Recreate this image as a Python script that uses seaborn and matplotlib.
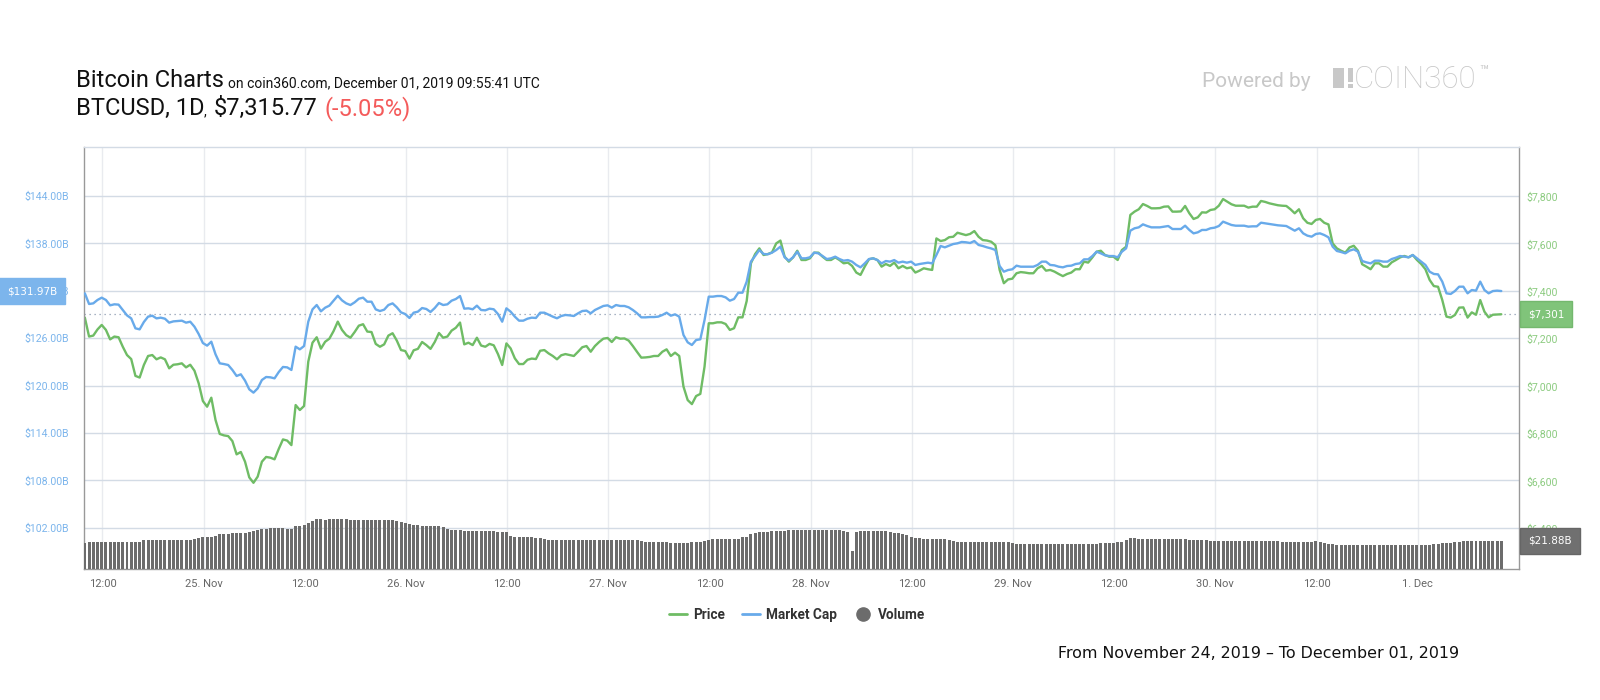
import pandas as pd
import matplotlib
matplotlib.use("Agg")
import matplotlib.pyplot as plt
import matplotlib.transforms as mtransforms
from matplotlib.patches import Rectangle
from matplotlib.lines import Line2D
import seaborn as sns

# ---------------- data (30-minute samples) ----------------
start_time = "2019-11-24 09:55"

price = [
    7287, 7207, 7211, 7237, 7256, 7235, 7195, 7207, 7204, 7164,
    7129, 7112, 7041, 7034, 7087, 7125, 7129, 7111, 7119, 7111,
    7073, 7088, 7090, 7094, 7077, 7088, 7063, 7010, 6935, 6911,
    6949, 6855, 6796, 6790, 6787, 6766, 6710, 6720, 6679, 6613,
    6590, 6616, 6679, 6699, 6696, 6689, 6733, 6773, 6768, 6749,
    6918, 6897, 6914, 7101, 7181, 7204, 7156, 7185, 7198, 7230,
    7270, 7235, 7213, 7202, 7226, 7253, 7259, 7228, 7226, 7176,
    7164, 7174, 7211, 7221, 7190, 7150, 7146, 7114, 7149, 7155,
    7184, 7171, 7155, 7184, 7222, 7202, 7207, 7232, 7244, 7266,
    7174, 7181, 7171, 7202, 7169, 7164, 7176, 7170, 7133, 7087,
    7178, 7157, 7115, 7091, 7091, 7109, 7114, 7112, 7147, 7150,
    7136, 7125, 7111, 7128, 7133, 7129, 7125, 7143, 7162, 7167,
    7143, 7167, 7184, 7198, 7201, 7184, 7204, 7198, 7199, 7190,
    7167, 7142, 7118, 7119, 7121, 7125, 7125, 7143, 7153, 7125,
    7139, 7125, 6996, 6939, 6922, 6956, 6965, 7080, 7263, 7263,
    7267, 7267, 7260, 7235, 7242, 7288, 7288, 7357, 7516, 7555,
    7579, 7551, 7555, 7562, 7600, 7612, 7544, 7523, 7541, 7569,
    7530, 7530, 7537, 7561, 7561, 7544, 7530, 7530, 7541, 7530,
    7516, 7519, 7505, 7477, 7467, 7502, 7533, 7537, 7530, 7502,
    7513, 7505, 7519, 7495, 7505, 7495, 7499, 7477, 7485, 7495,
    7491, 7488, 7621, 7610, 7614, 7626, 7628, 7645, 7640, 7635,
    7640, 7652, 7628, 7614, 7612, 7607, 7592, 7488, 7432, 7448,
    7451, 7474, 7479, 7477, 7474, 7474, 7495, 7505, 7485, 7488,
    7481, 7471, 7462, 7471, 7477, 7491, 7491, 7523, 7519, 7541,
    7565, 7569, 7551, 7544, 7544, 7530, 7572, 7586, 7720, 7734,
    7744, 7766, 7758, 7748, 7748, 7749, 7755, 7756, 7734, 7734,
    7735, 7758, 7727, 7703, 7710, 7731, 7730, 7741, 7744, 7759,
    7787, 7776, 7765, 7759, 7759, 7759, 7751, 7755, 7755, 7779,
    7775, 7769, 7765, 7761, 7759, 7758, 7744, 7727, 7744, 7706,
    7687, 7682, 7699, 7703, 7687, 7680, 7600, 7579, 7569, 7561,
    7583, 7590, 7569, 7512, 7502, 7491, 7516, 7516, 7502, 7502,
    7520, 7530, 7541, 7547, 7541, 7551, 7530, 7513, 7491, 7446,
    7420, 7417, 7361, 7291, 7287, 7298, 7329, 7330, 7287, 7309,
    7299, 7361, 7312, 7288, 7299, 7300, 7301,
]

market_cap = [
    131.68, 130.33, 130.41, 130.84, 131.13, 130.84, 130.16, 130.29, 130.25, 129.57,
    128.89, 128.51, 127.25, 127.12, 128.05, 128.73, 128.85, 128.51, 128.60, 128.47,
    127.97, 128.13, 128.18, 128.22, 127.97, 128.09, 127.46, 126.53, 125.39, 125.06,
    125.56, 123.96, 122.82, 122.73, 122.61, 121.98, 121.22, 121.43, 120.63, 119.53,
    119.11, 119.65, 120.71, 121.09, 121.05, 120.92, 121.72, 122.36, 122.31, 121.98,
    124.93, 124.59, 125.01, 128.09, 129.65, 130.20, 129.40, 129.86, 130.12, 130.75,
    131.38, 130.79, 130.41, 130.20, 130.54, 131.00, 131.13, 130.62, 130.62, 129.65,
    129.44, 129.61, 130.20, 130.41, 129.91, 129.27, 129.06, 128.56, 129.23, 129.36,
    129.82, 129.70, 129.32, 129.82, 130.46, 130.20, 130.29, 130.75, 130.96, 131.34,
    129.74, 129.78, 129.66, 130.12, 129.57, 129.53, 129.74, 129.66, 129.06, 128.09,
    129.78, 129.36, 128.73, 128.22, 128.22, 128.47, 128.60, 128.56, 129.23, 129.23,
    128.98, 128.73, 128.52, 128.81, 128.94, 128.89, 128.81, 129.15, 129.44, 129.49,
    129.15, 129.57, 129.82, 130.08, 130.16, 129.87, 130.20, 130.08, 130.08, 129.91,
    129.57, 129.15, 128.64, 128.64, 128.68, 128.68, 128.73, 128.94, 129.23, 128.85,
    129.02, 128.73, 126.41, 125.48, 125.14, 125.77, 125.86, 128.30, 131.26, 131.26,
    131.34, 131.34, 131.17, 130.75, 130.96, 131.76, 131.76, 133.16, 135.69, 136.41,
    137.16, 136.66, 136.62, 136.83, 137.16, 137.59, 136.24, 135.82, 136.24, 136.95,
    136.11, 136.11, 136.24, 136.83, 136.74, 136.40, 136.02, 136.11, 136.32, 136.02,
    135.81, 135.89, 135.69, 135.27, 134.97, 135.47, 136.02, 136.11, 135.89, 135.47,
    135.77, 135.69, 135.89, 135.56, 135.69, 135.56, 135.69, 135.27, 135.39, 135.47,
    135.56, 135.47, 136.53, 137.67, 137.50, 137.71, 137.92, 138.01, 138.18, 138.14,
    138.05, 138.30, 137.80, 137.67, 137.50, 137.36, 137.16, 135.14, 134.42, 134.63,
    134.72, 135.18, 135.05, 135.05, 135.05, 135.05, 135.27, 135.69, 135.69, 135.27,
    135.22, 135.05, 134.97, 135.14, 135.18, 135.39, 135.47, 135.98, 135.98, 136.40,
    136.95, 136.74, 136.49, 136.40, 136.40, 136.24, 136.95, 137.37, 139.61, 139.91,
    140.03, 140.41, 140.20, 140.03, 140.03, 140.03, 140.12, 140.20, 139.82, 139.82,
    139.82, 140.24, 139.70, 139.27, 139.40, 139.70, 139.70, 139.91, 139.99, 140.20,
    140.75, 140.54, 140.33, 140.24, 140.24, 140.24, 140.12, 140.16, 140.16, 140.62,
    140.54, 140.46, 140.37, 140.29, 140.24, 140.20, 139.91, 139.61, 139.91, 139.27,
    138.98, 138.85, 139.19, 139.27, 139.06, 138.77, 137.59, 137.04, 136.91, 136.74,
    137.08, 137.25, 136.95, 135.77, 135.60, 135.47, 135.81, 135.81, 135.69, 135.69,
    136.02, 136.19, 136.40, 136.32, 136.24, 136.53, 136.11, 135.69, 135.27, 134.42,
    134.13, 134.08, 133.16, 131.68, 131.60, 131.97, 132.52, 132.52, 131.68, 132.10,
    132.02, 133.16, 132.10, 131.68, 131.97, 132.02, 131.97,
]

volume = [
    20.1, 20.5, 21.1, 21.1, 21.1, 21.1, 21.1, 21.1, 21.1, 21.1,
    21.1, 21.1, 21.1, 21.1, 22.7, 22.7, 22.7, 22.7, 22.7, 22.7,
    22.7, 22.7, 22.7, 22.7, 22.7, 22.7, 23.4, 24.0, 24.4, 24.4,
    25.1, 25.7, 26.7, 27.3, 27.4, 27.6, 27.8, 27.8, 28.2, 28.8,
    29.2, 30.2, 30.9, 31.3, 31.7, 31.9, 31.9, 31.5, 31.2, 30.9,
    32.9, 33.5, 34.0, 35.9, 37.3, 38.7, 38.3, 38.1, 38.3, 38.7,
    38.9, 38.7, 38.3, 38.1, 38.1, 38.1, 38.1, 37.9, 37.6, 37.6,
    37.6, 37.6, 37.9, 38.1, 37.1, 36.3, 35.4, 34.8, 34.4, 34.0,
    33.2, 32.9, 32.9, 32.9, 32.9, 32.1, 31.2, 30.4, 29.8, 29.8,
    29.7, 29.6, 29.4, 29.1, 29.1, 29.2, 29.4, 29.6, 28.6, 28.6,
    28.6, 25.2, 25.0, 24.7, 24.7, 24.7, 24.7, 24.2, 23.7, 22.9,
    22.7, 22.7, 22.7, 22.7, 22.7, 22.7, 22.7, 22.7, 22.7, 22.7,
    22.7, 22.1, 22.1, 22.1, 22.1, 22.1, 22.1, 22.1, 22.1, 22.1,
    22.1, 22.1, 21.9, 20.9, 20.9, 20.9, 20.9, 20.9, 20.9, 19.8,
    19.8, 19.8, 19.8, 20.3, 20.6, 20.9, 21.1, 21.9, 22.7, 22.9,
    22.9, 22.9, 22.9, 22.9, 22.9, 23.2, 24.4, 25.0, 26.7, 27.8,
    28.6, 28.8, 28.8, 29.1, 29.2, 29.4, 29.6, 29.8, 29.8, 29.8,
    29.8, 29.8, 29.8, 29.8, 29.8, 29.8, 29.8, 29.8, 29.8, 29.8,
    29.4, 28.6, 13.6, 28.8, 29.1, 29.4, 29.6, 29.6, 29.6, 29.6,
    29.4, 28.3, 27.8, 27.5, 27.3, 26.3, 24.7, 24.0, 23.7, 23.4,
    23.4, 23.4, 23.4, 23.4, 23.4, 22.7, 21.6, 20.9, 20.6, 20.6,
    20.6, 20.6, 20.6, 20.6, 20.6, 20.6, 20.6, 20.6, 20.6, 20.6,
    20.1, 19.6, 19.6, 19.6, 19.6, 19.6, 19.6, 19.6, 19.6, 19.6,
    19.6, 19.6, 19.6, 19.6, 19.6, 19.6, 19.6, 19.6, 19.6, 19.6,
    19.6, 19.8, 20.1, 20.1, 20.1, 20.6, 21.1, 22.7, 23.7, 24.0,
    23.4, 23.4, 23.4, 23.4, 23.4, 23.4, 23.4, 23.4, 23.4, 23.4,
    23.4, 22.9, 22.7, 22.7, 22.7, 22.7, 22.1, 21.9, 21.9, 21.9,
    21.9, 21.9, 21.9, 21.9, 21.9, 21.9, 21.9, 21.9, 21.9, 21.9,
    21.9, 21.9, 21.9, 21.5, 20.9, 20.9, 20.9, 20.9, 20.9, 20.9,
    20.9, 21.1, 21.3, 20.5, 20.1, 19.3, 19.0, 18.6, 18.2, 18.2,
    18.2, 18.2, 18.2, 18.2, 18.2, 18.2, 18.2, 18.2, 18.2, 18.2,
    18.2, 18.2, 18.2, 18.2, 18.2, 18.2, 18.2, 18.2, 18.2, 18.6,
    19.0, 19.3, 19.8, 20.1, 20.3, 20.9, 21.1, 21.3, 21.3, 21.3,
    21.5, 21.5, 21.5, 21.7, 21.7, 21.5, 21.88,
]

tick_times = [
    "2019-11-24 12:00", "2019-11-25 00:00", "2019-11-25 12:00", "2019-11-26 00:00",
    "2019-11-26 12:00", "2019-11-27 00:00", "2019-11-27 12:00", "2019-11-28 00:00",
    "2019-11-28 12:00", "2019-11-29 00:00", "2019-11-29 12:00", "2019-11-30 00:00",
    "2019-11-30 12:00", "2019-12-01 00:00",
]
tick_labels = ["12:00", "25. Nov", "12:00", "26. Nov", "12:00", "27. Nov", "12:00",
               "28. Nov", "12:00", "29. Nov", "12:00", "30. Nov", "12:00", "1. Dec"]
mcap_ticks = [102, 108, 114, 120, 126, 132, 138, 144]
price_ticks = [6400, 6600, 6800, 7000, 7200, 7400, 7600, 7800]
series_names = ["Price", "Market Cap", "Volume"]

# ---------------- styling ----------------
GREEN = "#6fbc65"
BLUE = "#68aaea"
VOLC = "#6c6c6c"
HGRID = "#d3dbe5"
VGRID = "#e9ebef"

times = pd.date_range(start_time, periods=len(price), freq="30min")
df = pd.DataFrame({"time": times, "price": price, "mcap": market_cap, "volume": volume})

sns.set_theme(style="white")
plt.rcParams["font.family"] = ["Roboto", "DejaVu Sans"]

W, H = 1600, 700
fig = plt.figure(figsize=(16, 7), dpi=100)
L, R, T, B = 84, 1519, 147, 569
ax_p = fig.add_axes([L / W, 1 - B / H, (R - L) / W, (B - T) / H])
ax_m = ax_p.twinx()
ax_v = ax_p.twinx()

# lines and bars
sns.lineplot(data=df, x="time", y="price", ax=ax_p, color=GREEN, lw=1.7)
sns.lineplot(data=df, x="time", y="mcap", ax=ax_m, color=BLUE, lw=1.7)
ax_v.bar(df["time"], df["volume"], width=0.0148, color=VOLC, linewidth=0, align="center")

ax_p.set_xlim(pd.Timestamp("2019-11-24 09:49"), pd.Timestamp("2019-12-01 12:01"))
ax_p.set_ylim(6226.3, 8006.7)
ax_m.set_ylim(96.79, 150.20)
ax_v.set_ylim(0, 326.3)

for a in (ax_p, ax_m, ax_v):
    a.set_xlabel("")
    a.set_ylabel("")

ax_p.yaxis.tick_right()
ax_m.yaxis.tick_left()
ax_v.set_yticks([])

ax_p.set_yticks(price_ticks)
ax_p.set_yticklabels([f"${v:,.0f}" for v in price_ticks])
ax_m.set_yticks(mcap_ticks)
ax_m.set_yticklabels([f"${v:.2f}B" for v in mcap_ticks])
ax_p.set_xticks(pd.to_datetime(tick_times))
ax_p.set_xticklabels(tick_labels)

ax_p.tick_params(axis="x", length=0, pad=7.5, labelsize=8, labelcolor="#666666")
ax_p.tick_params(axis="y", length=0, pad=5, labelsize=7.6, labelcolor="#8ccb80")
ax_m.tick_params(axis="y", length=0, pad=10.5, labelsize=7.6, labelcolor="#7cb5ec")

ax_p.set_axisbelow(True)
ax_p.grid(axis="y", color=HGRID, lw=1.0)
ax_p.grid(axis="x", color=VGRID, lw=1.0)

for a in (ax_m, ax_v):
    for s in a.spines.values():
        s.set_visible(False)
for side in ("left", "right", "bottom"):
    ax_p.spines[side].set_color("#999999")
    ax_p.spines[side].set_linewidth(1.0)
ax_p.spines["top"].set_color(HGRID)
ax_p.spines["top"].set_linewidth(1.0)

# current-value dotted line
ax_p.axhline(price[-1], color="#8c9bb0", lw=0.9, ls=(0, (1, 3)), zorder=1)

# value boxes
box_font = dict(family="DejaVu Sans", fontsize=7.5, color="white")
tm = mtransforms.blended_transform_factory(ax_m.transAxes, ax_m.transData)
ax_m.text(-0.0187, market_cap[-1], f"${market_cap[-1]:.2f}B", transform=tm,
          ha="right", va="center", clip_on=False, zorder=20,
          bbox=dict(boxstyle="square,pad=0.78", fc="#7cb5ec", ec="#7cb5ec"), **box_font)
tp = mtransforms.blended_transform_factory(ax_p.transAxes, ax_p.transData)
ax_p.text(1.0061, price[-1], f"${price[-1]:,.0f}", transform=tp,
          ha="left", va="center", clip_on=False, zorder=20,
          bbox=dict(boxstyle="square,pad=0.78", fc="#80c47a", ec="#74b86e"), **box_font)
tv = mtransforms.blended_transform_factory(ax_v.transAxes, ax_v.transData)
ax_v.text(1.0061, volume[-1], f"${volume[-1]:.2f}B", transform=tv,
          ha="left", va="center", clip_on=False, zorder=20,
          bbox=dict(boxstyle="square,pad=0.78", fc="#707070", ec="#666666"), **box_font)

# legend
handles = [Line2D([], [], color=GREEN, lw=2),
           Line2D([], [], color=BLUE, lw=2),
           Line2D([], [], color=VOLC, marker="o", ls="", ms=9.5)]
fig.legend(handles, series_names, loc="center", bbox_to_anchor=(797 / W, 1 - 615 / H),
           ncol=3, frameon=False, handlelength=1.3, handletextpad=0.45, columnspacing=1.25,
           prop=dict(family="Roboto", weight="bold", size=9.8), labelcolor="#333333")

# titles
def fx(px):
    return px / W

def fy(py):
    return 1 - py / H

fig.text(fx(76), fy(87.3), "Bitcoin Charts", fontsize=17, color="#111111", va="baseline")
fig.text(fx(228.5), fy(87.3), "on coin360.com, December 01, 2019 09:55:41 UTC",
         fontsize=10, color="#111111", va="baseline")
fig.text(fx(76), fy(115), "BTCUSD, 1D", fontsize=17, color="#111111", va="baseline")
fig.text(fx(204), fy(115), ",", fontsize=10, color="#111111", va="baseline")
fig.text(fx(213.5), fy(115), "$7,315.77", fontsize=17, color="#111111", va="baseline")
fig.text(fx(325), fy(115), "(-5.05%)", fontsize=17, color="#f45b5b", va="baseline")

GREYLOGO = "#c8c8c8"
fig.text(fx(1201.5), fy(87.3), "Powered by", fontsize=15, color=GREYLOGO, va="baseline")
fig.add_artist(Rectangle((fx(1333), fy(88)), 11 / W, 20 / H, transform=fig.transFigure,
                         color=GREYLOGO, lw=0))
fig.add_artist(Rectangle((fx(1348), fy(82)), 5 / W, 14 / H, transform=fig.transFigure,
                         color=GREYLOGO, lw=0))
fig.add_artist(Rectangle((fx(1348), fy(88)), 5 / W, 4 / H, transform=fig.transFigure,
                         color=GREYLOGO, lw=0))
fig.text(fx(1354), fy(88.3), "COIN360", fontsize=22.5, color=GREYLOGO, va="baseline",
         fontweight="light")
fig.text(fx(1479), fy(65), "™", fontsize=11, color=GREYLOGO, va="top")

fig.text(fx(1058), fy(658), "From November 24, 2019 \u2013 To December 01, 2019",
         fontsize=11.4, family="DejaVu Sans", color="#111111", va="baseline")

fig.savefig("out.png", dpi=100, facecolor="white")
